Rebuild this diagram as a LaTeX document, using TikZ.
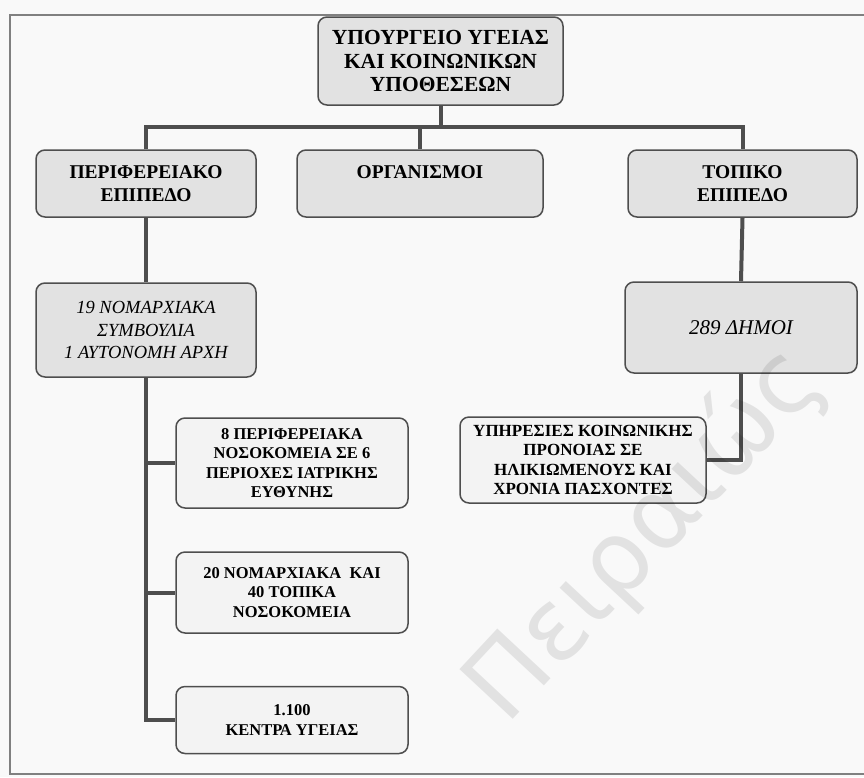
\documentclass[tikz,border=0pt]{standalone}
\usepackage{fontspec}
\setmainfont{Liberation Serif}
\newfontfamily\wmfont{DejaVu Sans}
\usepackage{tikz}
\usetikzlibrary{shapes,arrows}
\definecolor{boxgray}{HTML}{E2E2E2}
\definecolor{boxlight}{HTML}{F3F3F3}
\definecolor{linegray}{HTML}{4E4E4E}
\tikzstyle{box} = [draw=linegray,line width=1.5pt,rounded corners=9pt,fill=boxgray,
    align=center,inner sep=0pt]
\tikzstyle{lightbox} = [box,fill=boxlight]
\tikzstyle{conn} = [line width=4pt,draw=linegray]

\begin{document}
\begin{tikzpicture}[x=1pt,y=-1pt]
    \useasboundingbox[fill=gray!5] (0,0) rectangle (864,777);
    \draw[gray,line width=1.6pt] (864,15) -- (10,15) -- (10,774) -- (864,774);

    \node[box,minimum width=245pt,minimum height=88pt,font=\fontsize{21.5}{23.5}\selectfont\bfseries]
        (ypourgeio) at (440.5,61) {ΥΠΟΥΡΓΕΙΟ ΥΓΕΙΑΣ\\ΚΑΙ ΚΟΙΝΩΝΙΚΩΝ\\ΥΠΟΘΕΣΕΩΝ};

    \node[box,minimum width=220pt,minimum height=67pt,font=\fontsize{19.5}{23}\selectfont\bfseries]
        (perif) at (146,183.5) {ΠΕΡΙΦΕΡΕΙΑΚΟ\\ΕΠΙΠΕΔΟ};
    \node[box,minimum width=246pt,minimum height=67pt,font=\fontsize{19.5}{23}\selectfont\bfseries]
        (organ) at (420,183.5) {ΟΡΓΑΝΙΣΜΟΙ\\\mbox{}};
    \node[box,minimum width=229pt,minimum height=67pt,font=\fontsize{19.5}{23}\selectfont\bfseries]
        (topiko) at (742.5,183.5) {ΤΟΠΙΚΟ\\ΕΠΙΠΕΔΟ};

    \node[box,minimum width=220pt,minimum height=94pt,font=\fontsize{18.5}{22.5}\selectfont\itshape]
        (nomarx) at (146,330) {19 ΝΟΜΑΡΧΙΑΚΑ\\ΣΥΜΒΟΥΛΙΑ\\1 ΑΥΤΟΝΟΜΗ ΑΡΧΗ};
    \node[box,minimum width=232pt,minimum height=91pt,font=\fontsize{21}{24}\selectfont\itshape]
        (dimoi) at (741,327.5) {289 ΔΗΜΟΙ};

    \node[lightbox,minimum width=232pt,minimum height=90pt,font=\fontsize{16.5}{19.5}\selectfont\bfseries]
        (perifnos) at (292,463) {8 ΠΕΡΙΦΕΡΕΙΑΚΑ\\ΝΟΣΟΚΟΜΕΙΑ ΣΕ 6\\ΠΕΡΙΟΧΕΣ ΙΑΤΡΙΚΗΣ\\ΕΥΘΥΝΗΣ};
    \node[lightbox,minimum width=232pt,minimum height=81pt,font=\fontsize{16.5}{19.5}\selectfont\bfseries]
        (nomnos) at (292,592.5) {20 ΝΟΜΑΡΧΙΑΚΑ\ \ ΚΑΙ\\40 ΤΟΠΙΚΑ\\ΝΟΣΟΚΟΜΕΙΑ};
    \node[lightbox,minimum width=232pt,minimum height=67pt,font=\fontsize{16.5}{19.5}\selectfont\bfseries]
        (kentra) at (292,720) {1.100\\ΚΕΝΤΡΑ ΥΓΕΙΑΣ};
    \node[lightbox,minimum width=246pt,minimum height=86pt,font=\fontsize{17}{19.5}\selectfont\bfseries]
        (pronoia) at (583,460) {ΥΠΗΡΕΣΙΕΣ ΚΟΙΝΩΝΙΚΗΣ\\ΠΡΟΝΟΙΑΣ ΣΕ\\ΗΛΙΚΙΩΜΕΝΟΥΣ ΚΑΙ\\ΧΡΟΝΙΑ ΠΑΣΧΟΝΤΕΣ};

    \coordinate (bus) at (440,127);
    \draw[conn] (ypourgeio.south) -- (ypourgeio.south |- bus);
    \draw[conn] (perif.north) |- (bus) -| (topiko.north);
    \draw[conn] (organ.north) -- (organ.north |- bus);

    \draw[conn] (perif.south) -- (nomarx.north);
    \draw[conn] (nomarx.south) |- (kentra.west);
    \draw[conn] (nomarx.south |- perifnos.west) -- (perifnos.west);
    \draw[conn] (nomarx.south |- nomnos.west) -- (nomnos.west);

    \draw[conn] (topiko.south) -- (dimoi.north);
    \draw[conn] (dimoi.south) |- (pronoia.east);

    \node[text=black,opacity=0.09,rotate=47,font=\fontsize{100}{100}\wmfont]
        (watermark) at (645,535) {Πειραιώς};
\end{tikzpicture}
\end{document}
